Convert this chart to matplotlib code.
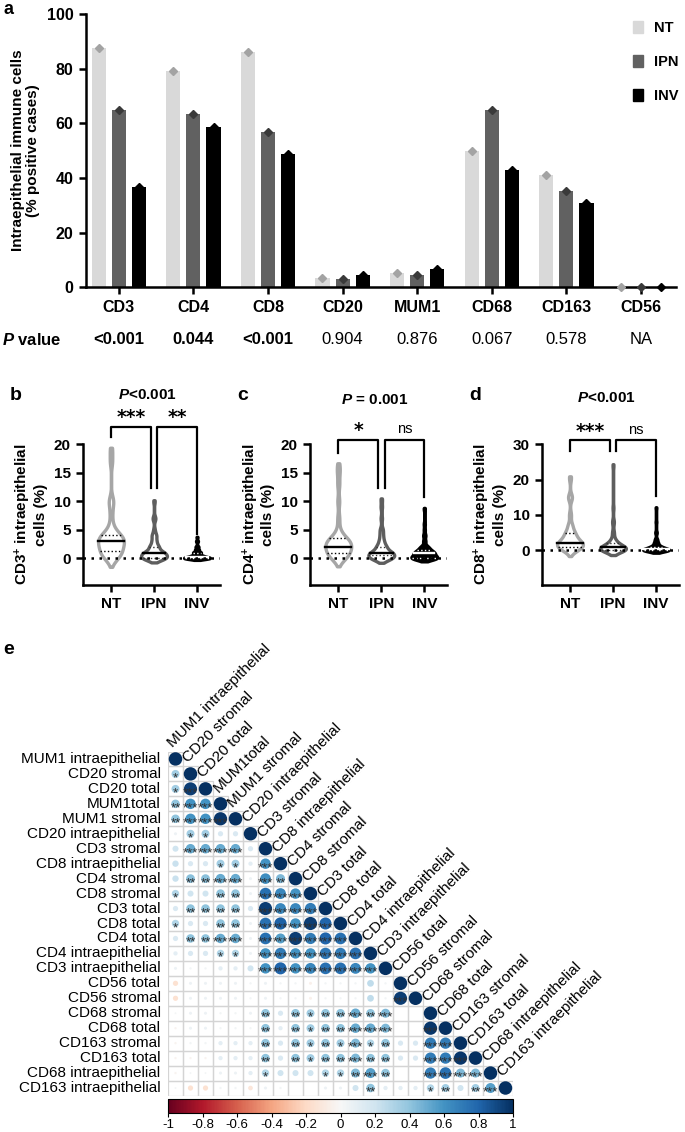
import numpy as np
import matplotlib.pyplot as plt
from matplotlib import mlab
from matplotlib.patches import Circle, Rectangle, Patch
from matplotlib.colors import Normalize
from matplotlib.cm import ScalarMappable

plt.rcParams['font.family'] = ['Liberation Sans', 'DejaVu Sans']
plt.rcParams['mathtext.fontset'] = 'custom'
plt.rcParams['mathtext.rm'] = 'Liberation Sans:bold'
plt.rcParams['mathtext.it'] = 'Liberation Sans:italic:bold'
plt.rcParams['mathtext.bf'] = 'Liberation Sans:bold'

# ---------------- panel a: % positive cases
markers = ['CD3', 'CD4', 'CD8', 'CD20', 'MUM1', 'CD68', 'CD163', 'CD56']
nt_pct = [87.7, 79.1, 86.2, 3.4, 5.1, 50.0, 41.1, 0.0]
ipn_pct = [64.8, 63.3, 57.0, 3.2, 4.4, 64.8, 35.2, 0.0]
inv_pct = [36.6, 58.7, 48.9, 4.5, 6.8, 42.9, 31.0, 0.0]
p_values = ['<0.001', '0.044', '<0.001', '0.904', '0.876', '0.067', '0.578', 'NA']
p_bold = [True, True, True, False, False, False, False, False]

groups = ['NT', 'IPN', 'INV']
group_fill = ['#d9d9d9', '#616161', '#000000']
group_mark = ['#a3a3a3', '#3a3a3a', '#000000']

# ---------------- panels b-d: violin data (value, number of cases)
cd3_vals = [[0, 1, 2, 3, 4, 5, 6, 8, 10, 17, 19],
            [0, 0.5, 1, 2, 3, 4, 5, 7, 10],
            [0, 0.2, 0.5, 1, 1.5, 2, 3, 3.7]]
cd3_counts = [[3, 5, 4, 6, 5, 1, 1, 1, 2, 1, 1],
              [12, 6, 10, 6, 3, 3, 1, 2, 1],
              [20, 10, 8, 8, 4, 3, 2, 1]]
cd4_vals = [[0, 1, 2, 3, 4, 5, 7, 10, 13, 15, 16.3],
            [0, 0.5, 1, 2, 3, 4, 5, 7, 9, 10.3],
            [0, 0.5, 1, 1.5, 2, 3, 4, 5, 6, 8.7]]
cd4_counts = [[4, 6, 6, 7, 2, 1, 1, 1, 1, 1, 1],
              [10, 6, 10, 6, 3, 2, 2, 1, 1, 1],
              [18, 10, 12, 6, 5, 2, 2, 1, 1, 1]]
cd8_vals = [[0, 1, 2, 3, 4, 5, 7, 10, 15, 20.5],
            [0, 0.5, 1, 2, 3, 5, 8, 12, 24],
            [0, 0.3, 1, 2, 3, 5, 8, 12]]
cd8_counts = [[3, 6, 6, 3, 2, 3, 2, 1, 2, 1],
              [14, 8, 10, 5, 3, 2, 2, 1, 1],
              [22, 12, 10, 5, 3, 2, 1, 1]]

# ---------------- panel e: Spearman correlation (lower triangle)
corr_labels = ['MUM1 intraepithelial', 'CD20 stromal', 'CD20 total', 'MUM1total',
               'MUM1 stromal', 'CD20 intraepithelial', 'CD3 stromal',
               'CD8 intraepithelial', 'CD4 stromal', 'CD8 stromal', 'CD3 total',
               'CD8 total', 'CD4 total', 'CD4 intraepithelial', 'CD3 intraepithelial',
               'CD56 total', 'CD56 stromal', 'CD68 stromal', 'CD68 total',
               'CD163 stromal', 'CD163 total', 'CD68 intraepithelial',
               'CD163 intraepithelial']
corr_lower = [
    [1],
    [0.35, 1],
    [0.35, 0.95, 1],
    [0.40, 0.60, 0.60, 1],
    [0.40, 0.60, 0.60, 0.97, 1],
    [0.05, 0.35, 0.35, 0.15, 0.15, 1],
    [0.20, 0.50, 0.50, 0.50, 0.50, 0.15, 1],
    [0.22, 0.15, 0.15, 0.35, 0.35, 0.10, 0.60, 1],
    [0.22, 0.42, 0.42, 0.50, 0.50, 0.05, 0.62, 0.45, 1],
    [0.30, 0.20, 0.20, 0.40, 0.40, 0.05, 0.75, 0.65, 0.60, 1],
    [0.15, 0.40, 0.40, 0.40, 0.40, 0.15, 0.95, 0.65, 0.65, 0.70, 1],
    [0.30, 0.15, 0.15, 0.40, 0.40, 0.05, 0.75, 0.82, 0.60, 0.95, 0.80, 1],
    [0.15, 0.40, 0.40, 0.50, 0.50, 0.05, 0.75, 0.55, 0.95, 0.70, 0.80, 0.75, 1],
    [0.10, 0.15, 0.15, 0.30, 0.30, 0.05, 0.60, 0.70, 0.60, 0.60, 0.72, 0.70, 0.75, 1],
    [0.05, 0.03, 0.03, 0.10, 0.10, 0.20, 0.60, 0.80, 0.60, 0.65, 0.75, 0.75, 0.65, 0.60, 1],
    [-0.15, 0.05, 0.05, 0.05, 0.05, 0.03, 0.05, 0.03, 0.03, -0.05, 0.03, 0.03, 0.03, 0.25, 0.03, 1],
    [-0.15, 0.05, 0.05, 0.05, 0.05, 0.03, 0.05, 0.03, 0.03, -0.05, 0.03, 0.03, 0.03, 0.25, 0.03, 0.95, 1],
    [0.02, 0.05, 0.05, 0.03, 0.03, 0.05, 0.40, 0.15, 0.40, 0.35, 0.40, 0.40, 0.50, 0.40, 0.45, 0.0, 0.0, 1],
    [-0.03, 0.05, 0.05, 0.03, 0.03, 0.03, 0.40, 0.10, 0.40, 0.35, 0.40, 0.40, 0.50, 0.50, 0.45, 0.0, 0.0, 0.97, 1],
    [-0.03, 0.03, 0.03, 0.10, 0.10, 0.10, 0.40, 0.15, 0.40, 0.35, 0.40, 0.35, 0.45, 0.30, 0.40, 0.15, 0.15, 0.70, 0.70, 1],
    [-0.03, -0.03, -0.03, 0.10, 0.10, 0.10, 0.40, 0.15, 0.40, 0.35, 0.40, 0.40, 0.45, 0.40, 0.40, 0.15, 0.15, 0.70, 0.70, 0.97, 1],
    [-0.03, 0.02, 0.02, 0.05, 0.05, 0.10, 0.30, 0.20, 0.20, 0.20, 0.30, 0.30, 0.45, 0.55, 0.40, 0.0, 0.0, 0.70, 0.75, 0.45, 0.45, 1],
    [0.02, -0.15, -0.15, 0.03, 0.03, -0.12, 0.05, 0.03, 0.0, 0.0, 0.05, 0.05, 0.20, 0.40, 0.10, 0.10, 0.10, 0.30, 0.35, 0.20, 0.35, 0.55, 1],
]
S3 = '***'
sig_lower = [
    [''],
    ['*', ''],
    ['*', S3, ''],
    ['**', S3, S3, ''],
    ['**', S3, S3, S3, ''],
    ['', '*', '*', '', '', ''],
    ['', S3, S3, S3, S3, '', ''],
    ['', '', '', '*', '*', '', S3, ''],
    ['', '**', '**', S3, S3, '', S3, '**', ''],
    ['*', '', '', '**', '**', '', S3, S3, S3, ''],
    ['', '**', '**', '**', '**', '', S3, S3, S3, S3, ''],
    ['*', '', '', '**', '**', '', S3, S3, S3, S3, S3, ''],
    ['', '**', '**', S3, S3, '', S3, S3, S3, S3, S3, S3, ''],
    ['', '', '', '*', '*', '', S3, S3, S3, S3, S3, S3, S3, ''],
    ['', '', '', '', '', '', S3, S3, S3, S3, S3, S3, S3, S3, ''],
    [''] * 16,
    [''] * 15 + [S3, ''],
    [''] * 6 + ['**', '', '**', '*', '**', '**', S3, '**', S3, '', '', ''],
    [''] * 6 + ['**', '', '**', '*', '**', '**', S3, S3, S3, '', '', S3, ''],
    [''] * 6 + ['**', '', '**', '*', '**', '*', S3, '*', '**', '', '', S3, S3, ''],
    [''] * 6 + ['**', '', '**', '*', '**', '**', S3, '**', '**', '', '', S3, S3, S3, ''],
    [''] * 6 + ['*', '', '', '', '*', '*', '**', S3, '**', '', '', S3, S3, S3, S3, ''],
    [''] * 13 + ['**', '', '', '', '*', '**', '', '**', S3, ''],
]
cbar_ticks = [-1, -0.8, -0.6, -0.4, -0.2, 0, 0.2, 0.4, 0.6, 0.8, 1]

W, H = 685, 1132
fig = plt.figure(figsize=(W / 100, H / 100), dpi=100)


def px_axes(left, top, right, bottom):
    return fig.add_axes([left / W, 1 - bottom / H, (right - left) / W, (bottom - top) / H])


def px_text(x, y, s, **kw):
    return fig.text(x / W, 1 - y / H, s, **kw)


# ================= panel a
ax = px_axes(86, 14, 676, 287.3)
x = np.arange(len(markers))
off = [-0.27, 0, 0.27]
for k, vals in enumerate([nt_pct, ipn_pct, inv_pct]):
    ax.bar(x + off[k], vals, 0.19, color=group_fill[k], zorder=2)
    ax.plot(x + off[k], vals, 'D', color=group_mark[k], ms=4.5, clip_on=False, zorder=3)
ax.set_xlim(-0.44, 7.47)
ax.set_ylim(0, 100)
ax.set_yticks([0, 20, 40, 60, 80, 100])
ax.set_xticks(x)
ax.set_xticklabels(markers)
for s in ['top', 'right']:
    ax.spines[s].set_visible(False)
for s in ['left', 'bottom']:
    ax.spines[s].set_linewidth(1.8)
ax.tick_params(width=1.8, length=5, labelsize=11.5, pad=4)
for t in ax.get_xticklabels() + ax.get_yticklabels():
    t.set_fontweight('bold')
ax.set_ylabel('Intraepithelial immune cells\n(% positive cases)', fontsize=11,
              fontweight='bold', labelpad=5, linespacing=1.05)
handles = [Patch(color=c) for c in group_fill]
fig.legend(handles, groups, loc='upper left', bbox_to_anchor=(620 / W, 1 - 8 / H),
           frameon=False, handlelength=0.7, handleheight=0.9, handletextpad=0.7,
           labelspacing=1.35, prop={'weight': 'bold', 'size': 10.5})

px_text(2, 340, r'$P$ value', fontsize=12, fontweight='bold', va='center')
for k, (pv, b) in enumerate(zip(p_values, p_bold)):
    px_text(86 + (k + 0.44) * 74.6, 340, pv, fontsize=12, ha='center', va='center',
            fontweight='bold' if b else 'normal')
px_text(3, 1, 'a', fontsize=13, fontweight='bold', va='top')


# ================= panels b-d
def violin(ax, pos, vals, counts, color, face, mcol, qcol):
    data = np.repeat(vals, counts).astype(float)
    kde = mlab.GaussianKDE(data, 0.22)
    bw = np.sqrt(np.ravel(kde.covariance)[0])
    yy = np.linspace(data.min() - 1.5 * bw, data.max() + 0.4 * bw, 400)
    dens = kde.evaluate(yy)
    half = dens / dens.max() * 0.3
    ax.fill_betweenx(yy, pos - half, pos + half, facecolor=face, edgecolor=color,
                     lw=2.4, zorder=3)
    q1, med, q3 = np.percentile(data, [25, 50, 75])
    for q, ls, c, lw in [(med, '-', mcol, 1.7), (q1, ':', qcol, 1.0), (q3, ':', qcol, 1.0)]:
        h = np.interp(q, yy, half)
        ax.plot([pos - h, pos + h], [q, q], ls=ls, color=c, lw=lw, zorder=4)


panels = [
    dict(lab='b', nt=111, ymax=20, yb=-4.6, yt=[0, 5, 10, 15, 20], vals=cd3_vals,
         counts=cd3_counts, ylab='CD3$^{+}$ intraepithelial\ncells (%)', title=r'$P$<0.001',
         ty=395, top=23.1, legs=[21.2, 12.4, 12.4, 4.2], stars=['***', '**'], sy=23.7),
    dict(lab='c', nt=338.3, ymax=20, yb=-4.6, yt=[0, 5, 10, 15, 20], vals=cd4_vals,
         counts=cd4_counts, ylab='CD4$^{+}$ intraepithelial\ncells (%)', title=r'$P$ = 0.001',
         ty=400, top=20.8, legs=[18.4, 12.4, 12.4, 10.8], stars=['*', 'ns'], sy=21.4),
    dict(lab='d', nt=570, ymax=30, yb=-9.7, yt=[0, 10, 20, 30], vals=cd8_vals,
         counts=cd8_counts, ylab='CD8$^{+}$ intraepithelial\ncells (%)', title=r'$P$<0.001',
         ty=398, top=31.3, legs=[28, 28, 28, 15.5], stars=['***', 'ns'], sy=32.2),
]
vcol = ['#a6a6a6', '#5e5e5e', '#000000']
vface = ['white', 'white', '#000000']
vmed = ['black', 'black', 'white']
vq = ['black', '#333333', 'white']
for p in panels:
    ax = px_axes(p['nt'] - 0.65 * 43, 444.3, p['nt'] + 2.53 * 43, 584.5)
    ax.set_xlim(-0.65, 2.53)
    ax.set_ylim(p['yb'], p['ymax'])
    ax.axhline(0, color='black', lw=1.8, ls=(0, (1.0, 2.2)), zorder=5)
    for g in range(3):
        violin(ax, g, p['vals'][g], p['counts'][g], vcol[g], vface[g], vmed[g], vq[g])
    ax.set_xticks([0, 1, 2])
    ax.set_xticklabels(groups)
    ax.set_yticks(p['yt'])
    for s in ['top', 'right']:
        ax.spines[s].set_visible(False)
    for s in ['left', 'bottom']:
        ax.spines[s].set_linewidth(1.8)
    ax.tick_params(width=1.8, length=5, labelsize=11, pad=4)
    for t in ax.get_xticklabels() + ax.get_yticklabels():
        t.set_fontweight('bold')
    ax.set_ylabel(p['ylab'], fontsize=11, fontweight='bold', labelpad=4, linespacing=1.05)
    tp, lg = p['top'], p['legs']
    ax.plot([0, 0, 0.92, 0.92], [lg[0], tp, tp, lg[1]], color='black', lw=1.6, clip_on=False)
    ax.plot([1.08, 1.08, 2, 2], [lg[2], tp, tp, lg[3]], color='black', lw=1.6, clip_on=False)
    for xs, st in zip([0.46, 1.54], p['stars']):
        if st == 'ns':
            ax.text(xs, p['sy'], st, ha='center', va='bottom', fontsize=10.5)
        else:
            ax.text(xs, p['sy'], st, ha='center', va='baseline', fontsize=13.5,
                    fontweight='bold', family='DejaVu Sans')
    px_text(p['nt'] + 0.85 * 43, p['ty'], p['title'], fontsize=11, fontweight='bold',
            ha='center', va='center')
    px_text(p['nt'] - 101, 395, p['lab'], fontsize=14, fontweight='bold', va='center')

# ================= panel e
cmap = plt.get_cmap('RdBu')
norm = Normalize(-1, 1)
n = len(corr_labels)
ax = px_axes(168, 751.5, 513, 1095.5)
ax.set_xlim(-0.5, n - 0.5)
ax.set_ylim(n - 0.5, -0.5)
ax.axis('off')
for i, row in enumerate(corr_lower):
    for j, r in enumerate(row):
        ax.add_patch(Rectangle((j - 0.5, i - 0.5), 1, 1, fill=False, ec='#d4d4d4', lw=0.9))
        if abs(r) > 0:
            ax.add_patch(Circle((j, i), 0.45 * np.sqrt(abs(r)), color=cmap(norm(r)), lw=0))
for i, row in enumerate(sig_lower):
    for j, s in enumerate(row):
        if s:
            ax.text(j, i + 0.5, s, ha='center', va='baseline', fontsize=9.5,
                    color='#2f2f2f', zorder=5)
for i, name in enumerate(corr_labels):
    ax.text(-1.0, i, name, ha='right', va='center', fontsize=11)
    ax.text(i - 0.15, i - 0.75, name, ha='left', va='baseline', rotation=45,
            rotation_mode='anchor', fontsize=11, clip_on=False)
px_text(3, 649, 'e', fontsize=14, fontweight='bold', va='center')

cax = px_axes(168, 1099, 513, 1113)
cb = fig.colorbar(ScalarMappable(norm=norm, cmap=cmap), cax=cax, orientation='horizontal',
                  ticks=cbar_ticks)
cb.ax.set_xticklabels(['%g' % t for t in cbar_ticks])
cb.outline.set_linewidth(0.8)
cb.ax.tick_params(length=3, width=0.8, labelsize=9.5, pad=1)

fig.savefig('out.png', dpi=100)
